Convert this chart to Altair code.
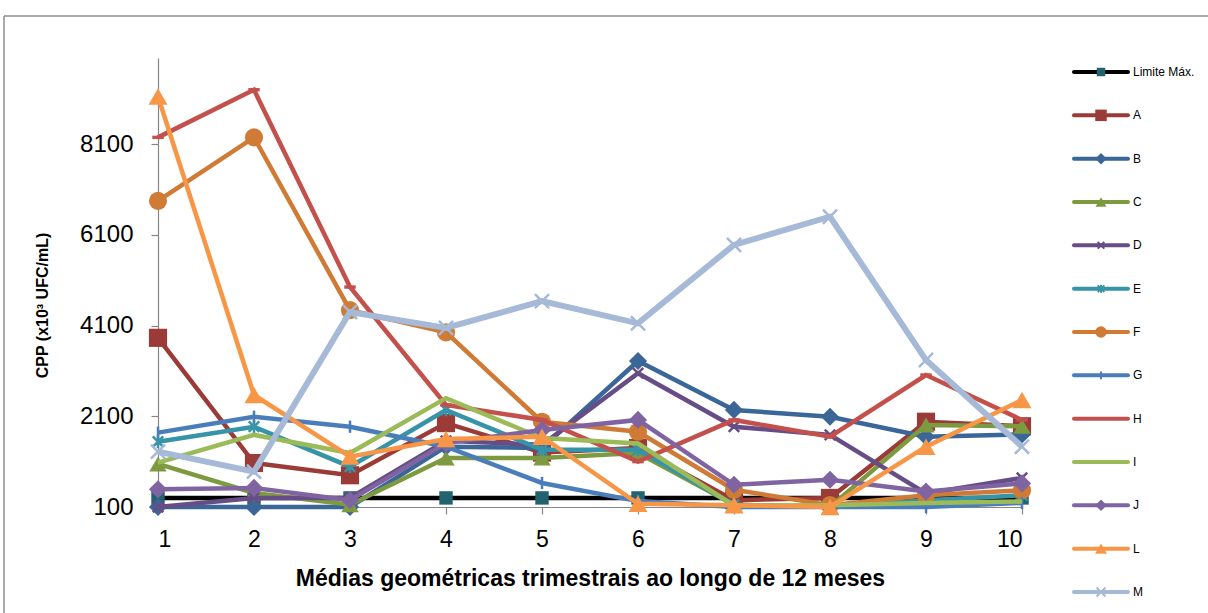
import altair as alt
import pandas as pd

# Trimestral geometric means (x10^3 UFC/mL) for each sample over 12 months
periodos = [1, 2, 3, 4, 5, 6, 7, 8, 9, 10]

limite = [300, 300, 300, 300, 300, 300, 300, 300, 300, 300]
serie_a = [3830, 1070, 800, 1950, 1300, 1400, 250, 300, 1980, 1880]
serie_b = [100, 100, 100, 1430, 1400, 3320, 2240, 2090, 1650, 1700]
serie_c = [1050, 410, 150, 1180, 1180, 1290, 150, 100, 1910, 1880]
serie_d = [100, 300, 300, 1560, 1470, 3050, 1870, 1690, 400, 740]
serie_e = [1540, 1870, 990, 2240, 1360, 1360, 150, 100, 250, 360]
serie_f = [6850, 8250, 4440, 3950, 1980, 1760, 480, 140, 360, 470]
serie_g = [1740, 2090, 1870, 1430, 630, 230, 100, 100, 100, 190]
serie_h = [8250, 9300, 4950, 2350, 2020, 1100, 2020, 1650, 3010, 2020]
serie_i = [1080, 1690, 1290, 2500, 1620, 1500, 130, 140, 190, 220]
serie_j = [490, 520, 250, 1510, 1800, 2020, 590, 700, 440, 620]
serie_l = [9150, 2570, 1210, 1600, 1650, 170, 140, 100, 1430, 2460]
serie_m = [1320, 880, 4400, 4050, 4640, 4150, 5880, 6500, 3340, 1430]

nomes = ["Limite Máx.", "A", "B", "C", "D", "E", "F", "G", "H", "I", "J", "L", "M"]
valores = [limite, serie_a, serie_b, serie_c, serie_d, serie_e, serie_f,
           serie_g, serie_h, serie_i, serie_j, serie_l, serie_m]

y_ticks = [100, 2100, 4100, 6100, 8100]

# marker paths for the open symbols
X_PATH = "M-1,-1L1,1M-1,1L1,-1"
STAR_PATH = "M-1,-1L1,1M-1,1L1,-1M0,-1.2L0,1.2"
PLUS_PATH = "M0,-1L0,1"
DASH_PATH = "M-1,-0.3L1,-0.3L1,0.3L-1,0.3Z"

# per-series look: line colour, line width, marker colour, shape, filled, size
estilos = {
    "Limite Máx.": ("#000000", 4.5, "#22636F", "square", True, 180),
    "A": ("#9B3B37", 4.5, "#9B3B37", "square", True, 330),
    "B": ("#3A6698", 4.5, "#3A6698", "diamond", True, 330),
    "C": ("#7E9A40", 4.5, "#7E9A40", "triangle-up", True, 300),
    "D": ("#674D85", 4.5, "#674D85", X_PATH, False, 110),
    "E": ("#3793A8", 4.5, "#3793A8", STAR_PATH, False, 110),
    "F": ("#D07B35", 4.5, "#D07B35", "circle", True, 330),
    "G": ("#4A7EBB", 4.5, "#4A7EBB", PLUS_PATH, False, 150),
    "H": ("#C4504C", 4.5, "#C4504C", DASH_PATH, True, 130),
    "I": ("#9BBB59", 4.5, None, None, True, 0),
    "J": ("#8064A2", 4.5, "#8064A2", "diamond", True, 330),
    "L": ("#F79646", 4.5, "#F79646", "triangle-up", True, 360),
    "M": ("#A6B9D6", 6.0, "#A6B9D6", X_PATH, False, 200),
}

linhas = []
for nome, vals in zip(nomes, valores):
    for p, v in zip(periodos, vals):
        linhas.append({"serie": nome, "periodo": p, "valor": v})
df = pd.DataFrame(linhas)
df_leg = pd.DataFrame({"serie": nomes})

FONT = "Liberation Sans"

x_enc = alt.X(
    "periodo:Q",
    scale=alt.Scale(domain=[1, 10], nice=False, zero=False),
    axis=alt.Axis(values=periodos, format="d", title="Médias geométricas trimestrais ao longo de 12 meses",
                  grid=False, tickSize=7, labelPadding=14, titlePadding=16,
                  labelFontSize=23, titleFontSize=23, titleFontWeight="bold"),
)
y_enc = alt.Y(
    "valor:Q",
    scale=alt.Scale(domain=[100, 10000], nice=False, zero=False),
    axis=alt.Axis(values=y_ticks, format="d", title="CPP (x10³ UFC/mL)",
                  grid=False, tickSize=7, labelPadding=18,
                  titleX=-116, titleY=247, titleBaseline="middle", titleAlign="center",
                  labelFontSize=24, titleFontSize=16, titleFontWeight="bold"),
)

camadas = []
for nome in nomes:
    cor, lw, mcor, shape, filled, size = estilos[nome]
    base = alt.Chart(df).transform_filter(alt.datum.serie == nome)
    camadas.append(base.mark_line(color=cor, strokeWidth=lw).encode(x=x_enc, y=y_enc))
    if shape is not None:
        if filled:
            pm = base.mark_point(shape=shape, filled=True, color=mcor, size=size, opacity=1)
        else:
            pm = base.mark_point(shape=shape, filled=False, color=mcor, size=size,
                                 strokeWidth=2.5, opacity=1)
        camadas.append(pm.encode(x=x_enc, y=y_enc))

grafico = alt.layer(*camadas)

# legend column at the right
leg_y = alt.Y("serie:N",
              scale=alt.Scale(type="point", domain=nomes, range=[14, 534], padding=0),
              axis=None)
leg_camadas = []
for nome in nomes:
    cor, lw, mcor, shape, filled, size = estilos[nome]
    base = alt.Chart(df_leg).transform_filter(alt.datum.serie == nome)
    leg_camadas.append(base.mark_rule(color=cor, strokeWidth=4, strokeCap="round").encode(
        x=alt.value(916), x2=alt.value(970), y=leg_y))
    if shape is not None:
        s = size * 0.4
        if filled:
            pm = base.mark_point(shape=shape, filled=True, color=mcor, size=s, opacity=1)
        else:
            pm = base.mark_point(shape=shape, filled=False, color=mcor, size=s,
                                 strokeWidth=2, opacity=1)
        leg_camadas.append(pm.encode(x=alt.value(943), y=leg_y))
leg_camadas.append(
    alt.Chart(df_leg).mark_text(align="left", baseline="middle", fontSize=12, font=FONT, color="#000")
    .encode(x=alt.value(975), y=leg_y, text="serie:N")
)
legenda = alt.layer(*leg_camadas)

# outer frame (top and left edges)
moldura = alt.Chart(pd.DataFrame({"k": [0]}))
borda_topo = moldura.mark_rule(color="#8c8c8c", strokeWidth=1.5).encode(
    x=alt.value(-154), x2=alt.value(1060), y=alt.value(-42))
borda_esq = moldura.mark_rule(color="#8c8c8c", strokeWidth=1.5).encode(
    x=alt.value(-154), y=alt.value(-42), y2=alt.value(560))

chart = (
    alt.layer(grafico, legenda, borda_topo, borda_esq)
    .resolve_scale(y="independent")
    .properties(
        width=864, height=449,
        autosize=alt.AutoSizeParams(type="none"),
        padding={"left": 158, "top": 58, "right": 186, "bottom": 106},
        background="white",
    )
    .configure_view(stroke=None)
    .configure_axis(
        domainColor="#868686", tickColor="#868686", labelColor="#000", titleColor="#000",
        labelFont=FONT, titleFont=FONT, domainWidth=1.2, tickWidth=1.2,
    )
)

chart.save("out.html", embed_options={"renderer": "svg", "actions": False})
